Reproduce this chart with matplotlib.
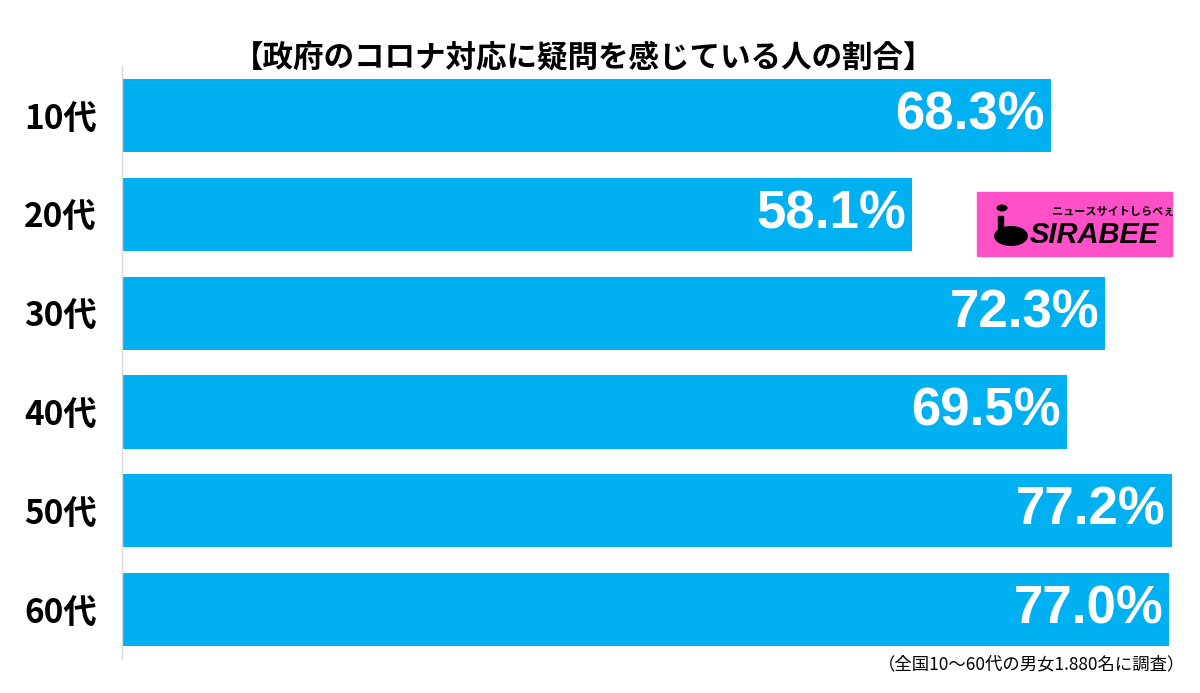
import numpy as np
import matplotlib.pyplot as plt
from matplotlib.patches import Rectangle, Circle

plt.rcParams['font.family'] = ['Noto Sans CJK JP', 'DejaVu Sans']

# data
ages = ['10代', '20代', '30代', '40代', '50代', '60代']
values = [68.3, 58.1, 72.3, 69.5, 77.2, 77.0]
title = '【政府のコロナ対応に疑問を感じている人の割合】'
note = '（全国10～60代の男女1.880名に調査）'

fig = plt.figure(figsize=(12, 6.93), dpi=100)
ax = fig.add_axes([0.1017, 0.049, 0.8817, 0.8557])

y = np.arange(len(ages))
ax.barh(y, values, height=0.74, color='#00b0f0')
ax.set_xlim(0, 77.8)
ax.set_ylim(len(ages) - 0.5, -0.5)

for yi, v in zip(y, values):
    ax.text(v - 0.45, yi, f'{v:.1f}%', ha='right', va='center', color='white',
            fontsize=38, fontweight='bold', family=['Liberation Sans', 'DejaVu Sans'])

ax.set_yticks(y)
ax.set_yticklabels(ages, fontsize=24, fontweight='bold')
ax.tick_params(axis='y', length=0, pad=18)
ax.set_xticks([])
for s in ['top', 'right', 'bottom']:
    ax.spines[s].set_visible(False)
ax.spines['left'].set_color('#d9d9d9')
ax.spines['left'].set_linewidth(1)

fig.text(0.486, 0.917, title, ha='center', va='center', fontsize=22, fontweight='bold')
fig.text(0.988, 0.041, note, ha='right', va='center', fontsize=12.5)

# sirabee logo box
fig.patches.append(Rectangle((977 / 1200, 1 - 256 / 693), 195 / 1200, 64 / 693,
                             transform=fig.transFigure, color='#ff50c8', zorder=3))
fig.text(1030 / 1200, 1 - 235 / 693, 'SIRABEE', ha='left', va='center', fontsize=21,
         fontweight='bold', style='italic', family=['Liberation Sans', 'DejaVu Sans'], zorder=4)
fig.text(1052 / 1200, 1 - 211 / 693, 'ニュースサイトしらべぇ', ha='left', va='center',
         fontsize=8, fontweight='bold', style='italic', zorder=4)
fig.patches.append(Circle((1011 / 1200, 1 - 236 / 693), 0.0135, transform=fig.transFigure,
                          color='black', zorder=4))
fig.patches.append(Rectangle((998 / 1200, 1 - 238 / 693), 5 / 1200, 22 / 693,
                             transform=fig.transFigure, color='black', zorder=4))
fig.patches.append(Circle((1002 / 1200, 1 - 208 / 693), 0.004, transform=fig.transFigure,
                          color='black', zorder=4))

fig.savefig('out.png', dpi=100)
